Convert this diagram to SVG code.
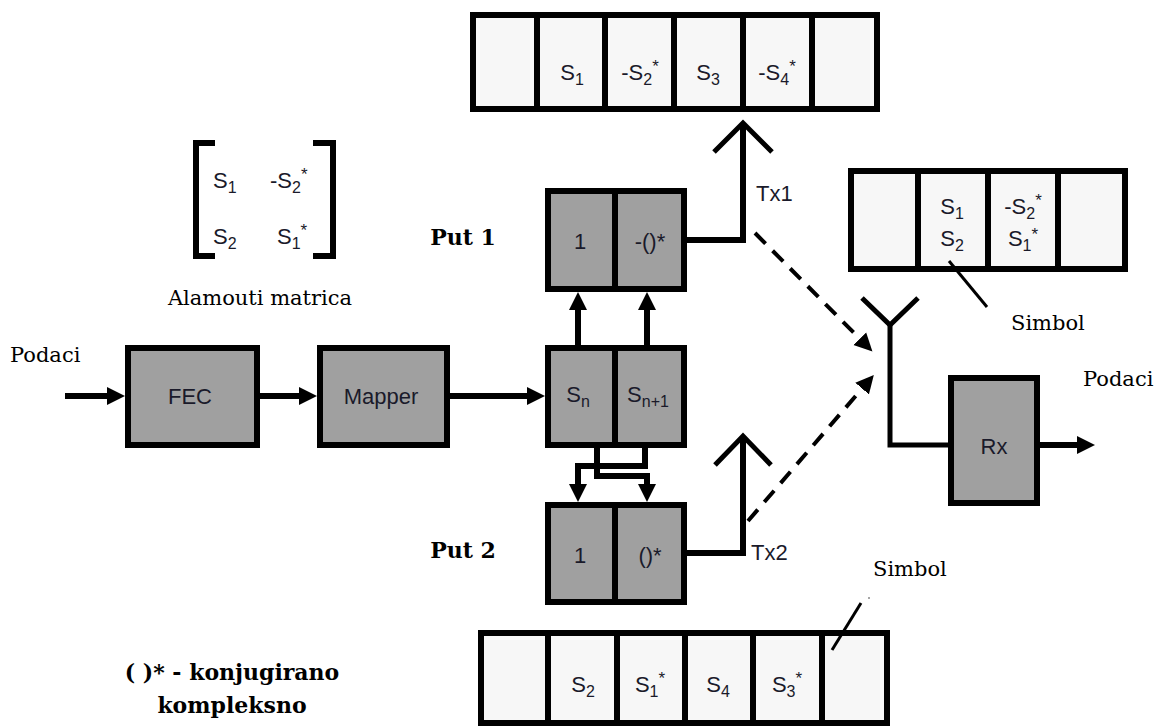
<svg xmlns="http://www.w3.org/2000/svg" width="1171" height="727" viewBox="0 0 1171 727">
<style>
.box{fill:#a0a0a0;stroke:#000;stroke-width:6}
.buf{fill:#f7f7f7;stroke:#000;stroke-width:6}
.div{stroke:#000;stroke-width:6}
.ln{fill:none;stroke:#000;stroke-width:6}
.ant{fill:none;stroke:#000;stroke-width:5}
.dash{fill:none;stroke:#000;stroke-width:4;stroke-dasharray:15 10}
.lead{fill:none;stroke:#000;stroke-width:3}
.lbl{font-family:"Liberation Sans",Arial,sans-serif;font-size:22px;fill:#1a1a2a;text-anchor:middle}
.lbs{font-family:"Liberation Sans",Arial,sans-serif;font-size:22px;fill:#1a1a2a}
.sub{font-size:16px}
.sup{font-size:17px}
.ser{font-family:"DejaVu Serif","Liberation Serif",serif;font-size:21px;fill:#000}
.serb{font-family:"DejaVu Serif","Liberation Serif",serif;font-size:22px;font-weight:bold;fill:#000}
</style>
<defs>
<marker id="ah" markerUnits="userSpaceOnUse" markerWidth="20" markerHeight="20" viewBox="0 0 20 20" refX="6" refY="10" orient="auto">
<path d="M0,1 L18,10 L0,19 z" fill="#000"/>
</marker>
</defs>
<rect width="1171" height="727" fill="#fff"/>

<!-- top buffer -->
<g id="buf_top">
<rect class="buf" x="473" y="15" width="404" height="94"/>
<line class="div" x1="537" y1="15" x2="537" y2="109"/>
<line class="div" x1="605" y1="15" x2="605" y2="109"/>
<line class="div" x1="674" y1="15" x2="674" y2="109"/>
<line class="div" x1="743" y1="15" x2="743" y2="109"/>
<line class="div" x1="812" y1="15" x2="812" y2="109"/>
<text class="lbl" x="572" y="80">S<tspan class="sub" dy="5">1</tspan></text>
<text class="lbl" x="640" y="80">-S<tspan class="sub" dy="5">2</tspan><tspan class="sup" dy="-13">*</tspan></text>
<text class="lbl" x="708" y="80">S<tspan class="sub" dy="5">3</tspan></text>
<text class="lbl" x="777" y="80">-S<tspan class="sub" dy="5">4</tspan><tspan class="sup" dy="-13">*</tspan></text>
</g>

<!-- matrix -->
<g id="matrix">
<path class="ln" d="M215,143 H196 V256 H215"/>
<path class="ln" d="M313,143 H333 V256 H313"/>
<text class="lbs" x="213" y="188">S<tspan class="sub" dy="5">1</tspan></text>
<text class="lbs" x="270" y="188">-S<tspan class="sub" dy="5">2</tspan><tspan class="sup" dy="-13">*</tspan></text>
<text class="lbs" x="213" y="244">S<tspan class="sub" dy="5">2</tspan></text>
<text class="lbs" x="277" y="244">S<tspan class="sub" dy="5">1</tspan><tspan class="sup" dy="-13">*</tspan></text>
<text class="ser" x="260" y="305" text-anchor="middle">Alamouti matrica</text>
</g>

<text class="ser" x="10" y="362">Podaci</text>
<text class="serb" x="463" y="245" text-anchor="middle">Put 1</text>
<text class="serb" x="463" y="558" text-anchor="middle">Put 2</text>
<text class="serb" x="232" y="680" text-anchor="middle">( )* - konjugirano</text>
<text class="serb" x="232" y="713" text-anchor="middle">kompleksno</text>

<!-- FEC -->
<g id="fec">
<rect class="box" x="128" y="348" width="129" height="97"/>
<text class="lbl" x="190" y="404">FEC</text>
</g>
<!-- Mapper -->
<g id="mapper">
<rect class="box" x="320" y="348" width="127" height="97"/>
<text class="lbl" x="381" y="404">Mapper</text>
</g>
<!-- S block -->
<g id="sblock">
<rect class="box" x="548" y="348" width="136" height="97"/>
<line class="div" x1="615" y1="348" x2="615" y2="445"/>
<text class="lbl" x="578" y="402">S<tspan class="sub" dy="5">n</tspan></text>
<text class="lbl" x="648" y="402">S<tspan class="sub" dy="5">n+1</tspan></text>
</g>
<!-- Put 1 -->
<g id="put1">
<rect class="box" x="548" y="191" width="136" height="98"/>
<line class="div" x1="615" y1="191" x2="615" y2="289"/>
<text class="lbl" x="580" y="249">1</text>
<text class="lbl" x="650" y="249">-()*</text>
</g>
<!-- Put 2 -->
<g id="put2">
<rect class="box" x="548" y="505" width="136" height="97"/>
<line class="div" x1="615" y1="505" x2="615" y2="602"/>
<text class="lbl" x="580" y="563">1</text>
<text class="lbl" x="650" y="563">()*</text>
</g>
<!-- Rx -->
<g id="rx">
<rect class="box" x="951" y="378" width="86" height="125"/>
<text class="lbl" x="994" y="454">Rx</text>
</g>
<text class="ser" x="1083" y="386">Podaci</text>

<!-- right buffer -->
<g id="buf_right">
<rect class="buf" x="851" y="171" width="274" height="98"/>
<line class="div" x1="918" y1="171" x2="918" y2="269"/>
<line class="div" x1="988" y1="171" x2="988" y2="269"/>
<line class="div" x1="1058" y1="171" x2="1058" y2="269"/>
<text class="lbl" x="952" y="214">S<tspan class="sub" dy="5">1</tspan></text>
<text class="lbl" x="952" y="246">S<tspan class="sub" dy="5">2</tspan></text>
<text class="lbl" x="1023" y="214">-S<tspan class="sub" dy="5">2</tspan><tspan class="sup" dy="-13">*</tspan></text>
<text class="lbl" x="1023" y="246">S<tspan class="sub" dy="5">1</tspan><tspan class="sup" dy="-11">*</tspan></text>
</g>
<line class="lead" x1="949" y1="261" x2="987" y2="307"/>
<text class="ser" x="1011" y="330">Simbol</text>

<!-- bottom buffer -->
<g id="buf_bottom">
<rect class="buf" x="481" y="633" width="406" height="90"/>
<line class="div" x1="548" y1="633" x2="548" y2="723"/>
<line class="div" x1="617" y1="633" x2="617" y2="723"/>
<line class="div" x1="685" y1="633" x2="685" y2="723"/>
<line class="div" x1="753" y1="633" x2="753" y2="723"/>
<line class="div" x1="822" y1="633" x2="822" y2="723"/>
<text class="lbl" x="583" y="692">S<tspan class="sub" dy="5">2</tspan></text>
<text class="lbl" x="650" y="692">S<tspan class="sub" dy="5">1</tspan><tspan class="sup" dy="-13">*</tspan></text>
<text class="lbl" x="718" y="692">S<tspan class="sub" dy="5">4</tspan></text>
<text class="lbl" x="787" y="692">S<tspan class="sub" dy="5">3</tspan><tspan class="sup" dy="-13">*</tspan></text>
</g>
<line class="lead" x1="832" y1="650" x2="861" y2="603"/>
<circle cx="869" cy="598" r="1" fill="#888"/>
<text class="ser" x="873" y="576">Simbol</text>

<!-- antennas -->
<g id="ant_tx1">
<path class="ant" d="M714,152 L743,123 L772,152"/>
</g>
<g id="ant_tx2">
<path class="ant" d="M715,465 L743,436 L771,465"/>
</g>
<g id="ant_rx">
<path class="ant" d="M862,298 L890,325 L918,298"/>
</g>
<text class="lbs" x="756" y="201">Tx1</text>
<text class="lbs" x="751" y="560">Tx2</text>

<!-- connectors -->
<g id="connectors">
<line class="ln" x1="65" y1="396" x2="113" y2="396" marker-end="url(#ah)"/>
<line class="ln" x1="257" y1="396" x2="305" y2="396" marker-end="url(#ah)"/>
<line class="ln" x1="447" y1="396" x2="533" y2="396" marker-end="url(#ah)"/>
<line class="ln" x1="578" y1="345" x2="578" y2="304" marker-end="url(#ah)"/>
<line class="ln" x1="647" y1="345" x2="647" y2="304" marker-end="url(#ah)"/>
<path class="ln" d="M645,448 V466 H578 V490" marker-end="url(#ah)"/>
<path class="ln" d="M597,448 V476 H647 V490" marker-end="url(#ah)"/>
<path class="ln" d="M687,240 H743 V124"/>
<path class="ln" d="M687,553 H743 V437"/>
<path class="ant" d="M890,325 V445 H948"/>
<line class="ln" x1="1040" y1="445" x2="1083" y2="445" marker-end="url(#ah)"/>
<line class="dash" x1="755" y1="233" x2="864" y2="343" marker-end="url(#ah)"/>
<line class="dash" x1="748" y1="521" x2="866" y2="384" marker-end="url(#ah)"/>
</g>
</svg>
